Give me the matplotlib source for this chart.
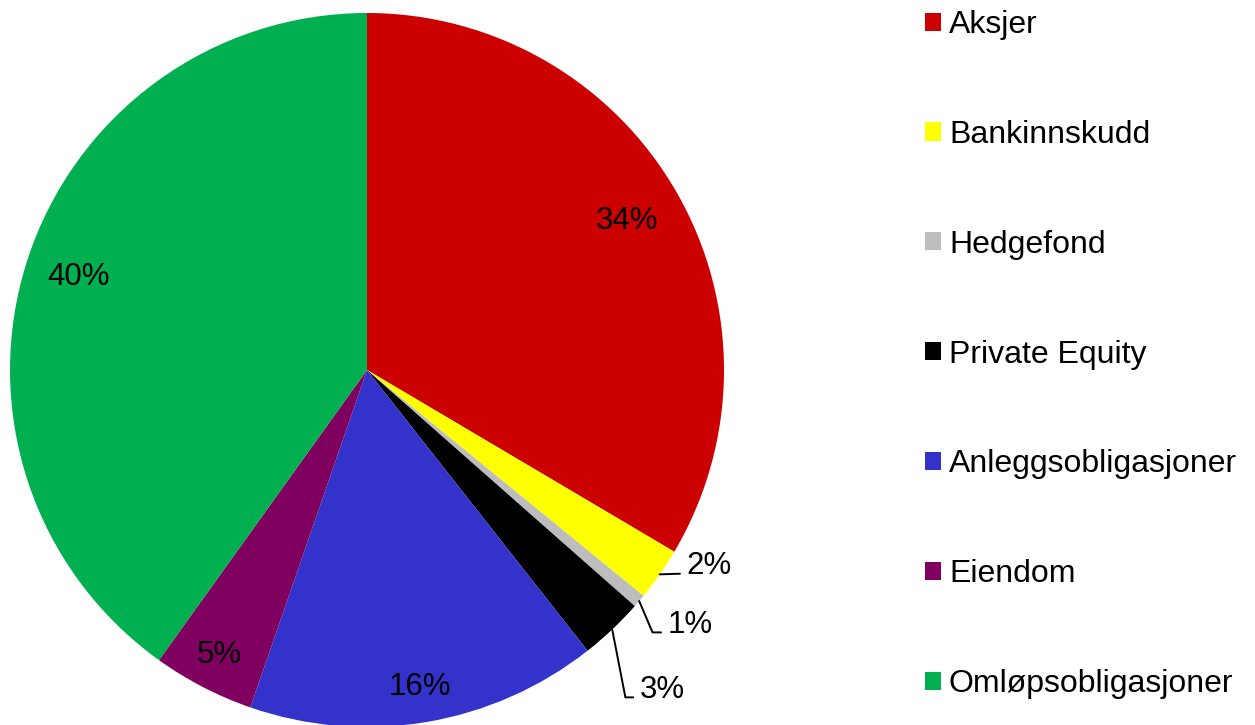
import matplotlib.pyplot as plt
import numpy as np

plt.rcParams['font.family'] = ['Liberation Sans', 'DejaVu Sans']

# Fordeling av porteføljen (prosent)
kategorier = ['Aksjer', 'Bankinnskudd', 'Hedgefond', 'Private Equity',
              'Anleggsobligasjoner', 'Eiendom', 'Omløpsobligasjoner']
andeler = [33.5, 2.4, 0.6, 2.9, 15.9, 4.6, 40.1]
etiketter = ['34%', '2%', '1%', '3%', '16%', '5%', '40%']
farger = ['#CC0000', '#FFFF00', '#BDBDBD', '#000000', '#3333CC', '#800060', '#00B050']

fig = plt.figure(figsize=(12.55, 7.25), dpi=100)
ax = fig.add_axes([10 / 1255, -2 / 725, 714 / 1255, 714 / 725])

wedges, _ = ax.pie(andeler, colors=farger, startangle=90, counterclock=False,
                   radius=1, wedgeprops=dict(linewidth=0))
ax.set_xlim(-1, 1)
ax.set_ylim(-1, 1)
ax.axis('off')

fs = 22.5
# etiketter inne i sektorene: avstand fra sentrum
inne = {0: 0.84, 4: 0.9, 5: 0.9, 6: 0.85}
# etiketter utenfor med linje: tekstposisjon og vinkel på linjen
ute = {1: ((0.896, -0.549), None),
       2: ((0.843, -0.714), -67),
       3: ((0.765, -0.896), -79)}

for i, w in enumerate(wedges):
    mid = np.deg2rad((w.theta1 + w.theta2) / 2)
    x, y = np.cos(mid), np.sin(mid)
    if i in inne:
        r = inne[i]
        ax.text(r * x, r * y, etiketter[i], ha='center', va='center', fontsize=fs)
    else:
        pos, vinkel = ute[i]
        if vinkel is None:
            cs = 'arc3'
        else:
            cs = 'angle,angleA=0,angleB=%d,rad=0' % vinkel
        ax.annotate(etiketter[i], xy=(x, y), xytext=pos, ha='left', va='center',
                    fontsize=fs, annotation_clip=False,
                    arrowprops=dict(arrowstyle='-', color='black', lw=1.4,
                                    connectionstyle=cs, relpos=(0, 0.25),
                                    shrinkA=3, shrinkB=0))

fig.legend(wedges, kategorier, loc='upper left', bbox_to_anchor=(925 / 1255, 1 - 10 / 725),
           frameon=False, fontsize=23, handlelength=0.5, handleheight=0.5,
           handletextpad=0.25, labelspacing=2.5, borderpad=0, borderaxespad=0)

fig.savefig('out.png', dpi=100)
